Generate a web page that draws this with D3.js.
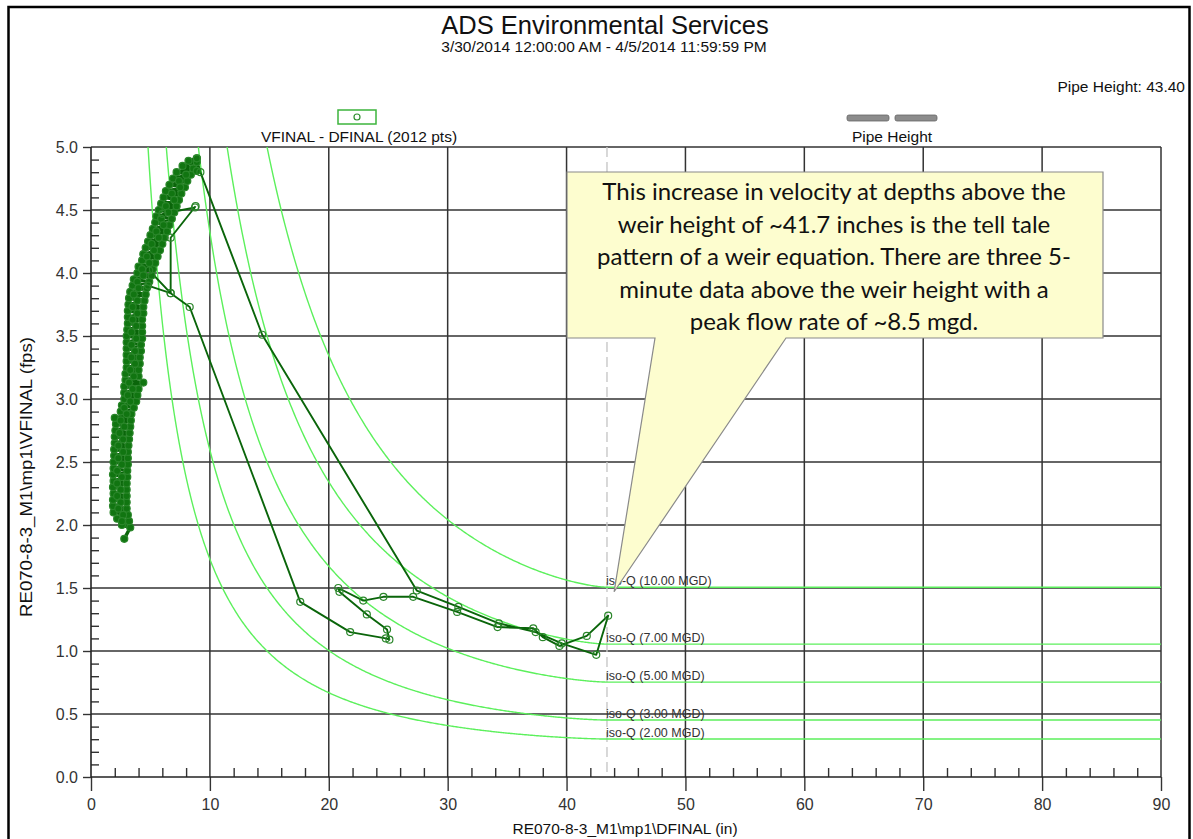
<!DOCTYPE html>
<html>
<head>
<meta charset="utf-8">
<script src="https://cdn.jsdelivr.net/npm/d3@7"></script>
<style>
  body { margin: 0; background: #fff; }
  svg  { display: block; font-family: "Liberation Sans", Arial, sans-serif; }
</style>
</head>
<body>
<svg id="chart" width="1193" height="839"></svg>
<script>
// ---- data ----
const title     = "ADS Environmental Services";
const subtitle  = "3/30/2014 12:00:00 AM - 4/5/2014 11:59:59 PM";
const xLabel    = "RE070-8-3_M1\\mp1\\DFINAL (in)";
const yLabel    = "RE070-8-3_M1\\mp1\\VFINAL (fps)";
const xTicks    = [0, 10, 20, 30, 40, 50, 60, 70, 80, 90];
const yTicks    = [0, 0.5, 1.0, 1.5, 2.0, 2.5, 3.0, 3.5, 4.0, 4.5, 5.0];
const pipeHeight = 43.40;                 // inches
const isoQ       = [2, 3, 5, 7, 10];      // MGD

// depth (in), velocity (fps) - dry weather cluster, going up then down
const clusterUp = [
  [2.8,1.89],[3.3,1.98],[2.6,2.00],[3.2,2.03],[2.2,2.05],[3.1,2.08],[1.9,2.10],[3.0,2.13],
  [1.85,2.15],[3.0,2.18],[1.85,2.20],[3.0,2.23],[1.9,2.25],[3.0,2.28],[1.85,2.30],[3.0,2.33],
  [1.9,2.35],[3.05,2.38],[1.85,2.40],[3.05,2.43],[1.9,2.45],[3.1,2.48],[1.9,2.50],[3.1,2.53],
  [1.95,2.55],[3.1,2.58],[1.95,2.60],[3.15,2.63],[2.0,2.65],[3.2,2.68],[2.0,2.70],[3.25,2.73],
  [2.05,2.75],[3.3,2.78],[2.1,2.80],[3.35,2.83],[2.0,2.85],[3.4,2.88],[2.5,2.90],[3.6,2.93],
  [2.6,2.95],[3.8,2.98],[2.8,3.00],[3.9,3.03],[2.8,3.05],[4.0,3.08],[2.8,3.10],[4.4,3.13],
  [2.9,3.15],[4.0,3.18],[2.9,3.20],[4.0,3.23],[3.0,3.25],[4.1,3.28],[3.0,3.30],[4.1,3.33],
  [3.0,3.35],[4.2,3.38],[3.0,3.40],[4.2,3.43],[3.0,3.45],[4.3,3.48],[3.0,3.50],[4.3,3.53],
  [3.05,3.55],[4.3,3.58],[3.1,3.60],[4.3,3.63],[3.1,3.65],[4.4,3.68],[3.1,3.70],[4.4,3.73],
  [3.15,3.75],[4.5,3.78],[3.2,3.80],[4.6,3.83],[3.3,3.85],[4.7,3.88],[3.5,3.90],[4.9,3.93],
  [3.6,3.95],[5.1,3.98],[3.9,4.00],[5.2,4.03],[4.0,4.05],[5.4,4.08],[4.3,4.10],[5.6,4.13],
  [4.4,4.15],[5.8,4.18],[4.6,4.20],[6.0,4.23],[4.8,4.25],[6.2,4.28],[5.0,4.30],[6.4,4.33],
  [5.2,4.35],[6.6,4.38],[5.4,4.40],[6.8,4.43],[5.5,4.45],[7.0,4.48],[5.7,4.50],[7.2,4.53],
  [5.9,4.55],[7.4,4.58],[6.1,4.60],[7.6,4.63],[6.3,4.65],[7.9,4.68],[6.6,4.70],[8.1,4.73],
  [6.9,4.75],[8.4,4.78],[7.2,4.80],[8.6,4.83],[7.7,4.85],[8.9,4.88],[8.2,4.89],[8.9,4.91],
  [8.9,4.81]
];
const clusterDown = [
  [8.0,4.78],[7.4,4.73],[7.5,4.68],[6.8,4.63],[7.0,4.58],[6.3,4.53],[6.5,4.48],[5.9,4.43],
  [6.1,4.38],[5.5,4.33],[5.7,4.28],[5.1,4.23],[5.3,4.18],[4.7,4.13],[4.9,4.08],[4.3,4.03],
  [4.4,3.98],[3.9,3.93],[4.0,3.88],[3.6,3.83],[3.9,3.78],[3.5,3.73],[3.9,3.68],[3.5,3.63],
  [3.8,3.58],[3.4,3.53],[3.8,3.48],[3.4,3.43],[3.7,3.38],[3.4,3.33],[3.7,3.28],[3.3,3.23],
  [3.6,3.18],[3.2,3.13],[3.5,3.08],[3.1,3.03],[3.3,2.98],[2.8,2.93],[3.0,2.88],[2.5,2.83],
  [2.8,2.78],[2.4,2.73],[2.7,2.68],[2.3,2.63],[2.7,2.58],[2.3,2.53],[2.6,2.48],[2.2,2.43],
  [2.6,2.38],[2.2,2.33],[2.5,2.28],[2.2,2.23],[2.5,2.18],[2.3,2.13],[2.7,2.08],[2.6,2.03]
];
// storm event
const stormLoop = [
  [4.8,3.90],[6.7,3.84],[8.3,3.73],[17.6,1.39],[21.8,1.15],[24.8,1.10],[25.1,1.09],[24.9,1.17],
  [23.2,1.29],[20.9,1.47],[20.8,1.50],[22.9,1.40],[24.6,1.43],[27.1,1.43],[30.8,1.31],[34.2,1.19],
  [37.2,1.18],[38.0,1.11],[39.4,1.04],[41.7,1.12],[43.5,1.28],[42.5,0.97],[39.6,1.06],[37.4,1.15],
  [34.3,1.22],[30.9,1.35],[27.4,1.48],[14.4,3.51],[9.2,4.80],[8.9,4.91]
];
const stormSpurA = [[6.0,4.47],[8.75,4.52]];
const stormSpurB = [[8.8,4.53],[6.7,4.28],[6.7,3.84],[4.9,4.02]];

const calloutLines = [
  "This increase in velocity at depths above the",
  "weir height of ~41.7 inches is the tell tale",
  "pattern of a weir equation. There are three 5-",
  "minute data above the weir height with a",
  "peak flow rate of ~8.5 mgd."
];

// ---- setup ----
const svg = d3.select("#chart");
const x = d3.scaleLinear().domain([0, 90]).range([91, 1161]);
const y = d3.scaleLinear().domain([0, 5]).range([777, 147]);

// outer frame
svg.append("rect")
  .attr("x", 8.5).attr("y", 7).attr("width", 1181).attr("height", 850)
  .attr("fill", "none").attr("stroke", "#000").attr("stroke-width", 2.5);

// titles
svg.append("text").attr("x", 605).attr("y", 34).attr("text-anchor", "middle")
  .attr("font-size", 25.5).attr("fill", "#111").text(title);
svg.append("text").attr("x", 604).attr("y", 52).attr("text-anchor", "middle")
  .attr("font-size", 15.5).attr("fill", "#111").text(subtitle);
svg.append("text").attr("x", 1185).attr("y", 92).attr("text-anchor", "end")
  .attr("font-size", 15.5).attr("fill", "#111").text("Pipe Height: " + pipeHeight.toFixed(2));

// legends
svg.append("rect").attr("x", 338).attr("y", 110).attr("width", 38).attr("height", 14)
  .attr("fill", "#fff").attr("stroke", "#3cb43c").attr("stroke-width", 1.5);
svg.append("circle").attr("cx", 357).attr("cy", 117).attr("r", 3)
  .attr("fill", "none").attr("stroke", "#2f8f2f").attr("stroke-width", 1.2);
svg.append("text").attr("x", 359).attr("y", 142).attr("text-anchor", "middle")
  .attr("font-size", 15.5).attr("fill", "#111").text("VFINAL - DFINAL (2012 pts)");

svg.selectAll("rect.pipeLeg").data([847, 895]).enter().append("rect")
  .attr("class", "pipeLeg")
  .attr("x", d => d).attr("y", 115).attr("width", 42).attr("height", 6).attr("rx", 2)
  .attr("fill", "#8c8c8c").attr("stroke", "#666").attr("stroke-width", 0.8);
svg.append("text").attr("x", 892).attr("y", 142).attr("text-anchor", "middle")
  .attr("font-size", 15.5).attr("fill", "#111").text("Pipe Height");

// clip for plot area
svg.append("defs").append("clipPath").attr("id", "plotClip")
  .append("rect").attr("x", x(0)).attr("y", y(5)).attr("width", x(90) - x(0)).attr("height", y(0) - y(5));

// gridlines
const grid = svg.append("g").attr("stroke", "#333").attr("stroke-width", 1.5);
grid.selectAll("line.gx").data(xTicks.filter(d => d > 0)).enter().append("line")
  .attr("x1", d => x(d)).attr("x2", d => x(d)).attr("y1", y(5)).attr("y2", y(0));
grid.selectAll("line.gy").data(yTicks.filter(d => d > 0)).enter().append("line")
  .attr("x1", x(0)).attr("x2", x(90)).attr("y1", d => y(d)).attr("y2", d => y(d));

// pipe height marker
svg.append("line")
  .attr("x1", x(pipeHeight)).attr("x2", x(pipeHeight)).attr("y1", y(5)).attr("y2", y(0))
  .attr("stroke", "#c8c8c8").attr("stroke-width", 1.4).attr("stroke-dasharray", "10,5");

// iso-Q curves for a circular pipe
const Dft = pipeHeight / 12;
function flowArea(depthIn) {
  const h = Math.min(depthIn, pipeHeight) / pipeHeight;
  const theta = 2 * Math.acos(1 - 2 * h);
  return Dft * Dft / 8 * (theta - Math.sin(theta));
}
const depthSamples = d3.range(0.5, pipeHeight, 0.1).concat([pipeHeight, 90]);
const isoLine = d3.line().x(d => x(d[0])).y(d => y(d[1]));
const isoG = svg.append("g").attr("clip-path", "url(#plotClip)");
isoQ.forEach(q => {
  const pts = depthSamples.map(d => [d, q * 1.5472 / flowArea(d)]).filter(p => p[1] < 7);
  isoG.append("path").attr("d", isoLine(pts))
    .attr("fill", "none").attr("stroke", "#5cf05c").attr("stroke-width", 1.4);
});
svg.selectAll("text.isoLab").data(isoQ).enter().append("text")
  .attr("class", "isoLab")
  .attr("x", x(pipeHeight) - 1)
  .attr("y", q => y(q * 1.5472 / flowArea(pipeHeight)) - 2)
  .attr("font-size", 12.5).attr("fill", "#333")
  .text(q => `iso-Q (${q.toFixed(2)} MGD)`);

// axes
const yAxis = svg.append("g").attr("transform", `translate(${x(0)},0)`)
  .call(d3.axisLeft(y).tickValues(yTicks).tickSize(8).tickPadding(5).tickFormat(d3.format(".1f")));
const yMinor = svg.append("g").attr("transform", `translate(${x(0)},0)`)
  .call(d3.axisRight(y).tickValues(d3.range(0.1, 5, 0.1).filter(v => Math.abs(v * 2 - Math.round(v * 2)) > 0.01))
    .tickSize(8).tickFormat(""));
const xAxis = svg.append("g").attr("transform", `translate(0,${y(0)})`)
  .call(d3.axisBottom(x).tickValues(xTicks).tickSize(14).tickPadding(8));
const xMinor = svg.append("g").attr("transform", `translate(0,${y(0)})`)
  .call(d3.axisTop(x).tickValues(d3.range(2, 90, 2).filter(v => v % 10 !== 0)).tickSize(9).tickFormat(""));
[yAxis, yMinor, xAxis, xMinor].forEach(a => {
  a.select(".domain").remove();
  a.selectAll("line").attr("stroke", "#333").attr("stroke-width", 1.4);
  a.selectAll("text").attr("font-size", 16).attr("fill", "#333")
    .attr("font-family", "'Liberation Sans', Arial, sans-serif");
});
svg.append("line").attr("x1", x(0)).attr("x2", x(0)).attr("y1", y(5)).attr("y2", y(0))
  .attr("stroke", "#222").attr("stroke-width", 1.6);
svg.append("line").attr("x1", x(0)).attr("x2", x(90)).attr("y1", y(0)).attr("y2", y(0))
  .attr("stroke", "#222").attr("stroke-width", 1.6);

svg.append("text").attr("x", 625).attr("y", 834).attr("text-anchor", "middle")
  .attr("font-size", 15.5).attr("fill", "#111").text(xLabel);
svg.append("text").attr("transform", "translate(32,477) rotate(-90)").attr("text-anchor", "middle")
  .attr("font-size", 17).attr("textLength", 280).attr("lengthAdjust", "spacingAndGlyphs")
  .attr("fill", "#111").text(yLabel);

// data
const dataG = svg.append("g").attr("clip-path", "url(#plotClip)");
const dataLine = d3.line().x(d => x(d[0])).y(d => y(d[1]));
const series = [
  { pts: clusterUp,   w: 3.4, fill: "#117511" },
  { pts: clusterDown, w: 3.4, fill: "#117511" },
  { pts: stormLoop,   w: 1.9, fill: "none" },
  { pts: stormSpurA,  w: 1.9, fill: "none" },
  { pts: stormSpurB,  w: 1.9, fill: "none" }
];
series.forEach(s => {
  dataG.append("path").attr("d", dataLine(s.pts))
    .attr("fill", "none").attr("stroke", "#0a650a").attr("stroke-width", s.w)
    .attr("stroke-linejoin", "round");
});
series.forEach(s => {
  dataG.selectAll(null).data(s.pts).enter().append("circle")
    .attr("cx", d => x(d[0])).attr("cy", d => y(d[1])).attr("r", 3.5)
    .attr("fill", s.fill).attr("stroke", "#2a862a").attr("stroke-width", 1.2);
});

// callout
const tip = [x(44.0), y(1.47)];
const box = { x0: 567, y0: 172, x1: 1103, y1: 338 };
const calloutPath = [
  [box.x0, box.y0], [box.x1, box.y0], [box.x1, box.y1], [786, box.y1],
  tip, [655, box.y1], [box.x0, box.y1]
];
svg.append("path").attr("d", d3.line()(calloutPath) + "Z")
  .attr("fill", "#fdfdcf").attr("stroke", "#8a8a8a").attr("stroke-width", 1.2);
svg.selectAll("text.callout").data(calloutLines).enter().append("text")
  .attr("class", "callout")
  .attr("x", 834).attr("y", (d, i) => 200 + i * 32.5)
  .attr("text-anchor", "middle").attr("font-family", "Lato, 'Open Sans', sans-serif")
  .attr("font-size", 24).attr("fill", "#111").text(d => d);
</script>
</body>
</html>
